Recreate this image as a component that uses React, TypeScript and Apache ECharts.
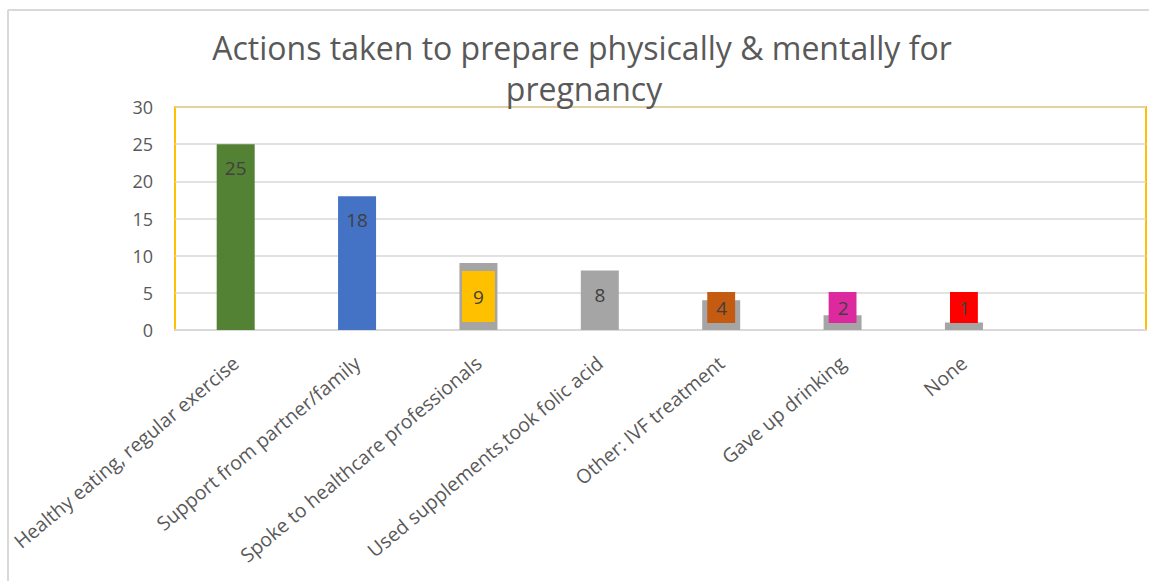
import React, { useEffect, useRef } from "react";
import * as echarts from "echarts";

const titleLines = ["Actions taken to prepare physically & mentally for", "pregnancy"];
const categories = [
  "Healthy eating, regular exercise",
  "Support from partner/family",
  "Spoke to healthcare professionals",
  "Used supplements,took folic acid",
  "Other: IVF treatment",
  "Gave up drinking",
  "None",
  "",
];
const values: (number | null)[] = [25, 18, 9, 8, 4, 2, 1, null];
const barColors = ["#548235", "#4472C4", "#A5A5A5", "#A5A5A5", "#A5A5A5", "#A5A5A5", "#A5A5A5", "#A5A5A5"];
const labelBoxColors: (string | null)[] = [null, null, "#FFC000", null, "#C55A11", "#DC2A9E", "#FF0000", null];
const yTicks = { min: 0, max: 30, interval: 5 };

const FONT = "'Open Sans', sans-serif";

export default function App() {
  const ref = useRef<HTMLDivElement>(null);
  useEffect(() => {
    if (!ref.current) return;
    const chart = echarts.init(ref.current, undefined, { renderer: "svg" });
    const data = values.map((v, i) => {
      const box = labelBoxColors[i];
      let label: any;
      if (box) {
        const tall = v !== null && v >= 9;
        label = {
          show: true,
          position: "insideBottom",
          distance: tall ? 8 : 7,
          backgroundColor: box,
          padding: tall ? [16, 11, 15, 11] : [6, 8, 5, 9],
        };
      } else {
        label = { show: v !== null, position: "insideTop", distance: 14 };
      }
      return { value: v, itemStyle: { color: barColors[i] }, label };
    });
    const titleStyle = {
      fontFamily: FONT,
      fontSize: 32,
      fontWeight: "normal",
      color: "#595959",
      lineHeight: 34,
    };
    chart.setOption({
      animation: false,
      backgroundColor: "#ffffff",
      title: [
        { text: titleLines[0], left: 582, top: 30, textAlign: "center", padding: 0, textStyle: titleStyle },
        { text: titleLines[1], left: 584, top: 71, textAlign: "center", padding: 0, textStyle: titleStyle },
      ],
      graphic: [
        { type: "line", shape: { x1: 8, y1: 10, x2: 1149, y2: 10 }, style: { stroke: "#D9D9D9", lineWidth: 2 } },
        { type: "line", shape: { x1: 8, y1: 10, x2: 8, y2: 581 }, style: { stroke: "#D9D9D9", lineWidth: 2 } },
      ],
      grid: {
        left: 175,
        right: 3,
        top: 107,
        bottom: 251,
        outerBoundsMode: "none",
        containLabel: false,
        show: true,
        borderColor: "#FFC000",
        borderWidth: 2,
        backgroundColor: "transparent",
      },
      xAxis: {
        type: "category",
        data: categories,
        axisTick: { show: false },
        axisLine: { show: true, lineStyle: { color: "#D9D9D9", width: 2 } },
        axisLabel: {
          rotate: 40,
          interval: 0,
          margin: 30,
          fontFamily: FONT,
          fontSize: 19.5,
          color: "#595959",
        },
      },
      yAxis: {
        type: "value",
        min: yTicks.min,
        max: yTicks.max,
        interval: yTicks.interval,
        axisLine: { show: false },
        axisTick: { show: false },
        splitLine: { lineStyle: { color: "#D9D9D9", width: 1.5 } },
        axisLabel: { margin: 22, fontFamily: FONT, fontSize: 18, color: "#595959" },
      },
      series: [
        {
          type: "bar",
          barWidth: 38,
          data,
          label: {
            fontFamily: FONT,
            fontSize: 19,
            lineHeight: 20,
            color: "#404040",
          },
        },
      ],
    });
    return () => chart.dispose();
  }, []);
  return (
    <div
      ref={ref}
      style={{ position: "absolute", left: 0, top: 0, width: 1149, height: 581 }}
    />
  );
}
